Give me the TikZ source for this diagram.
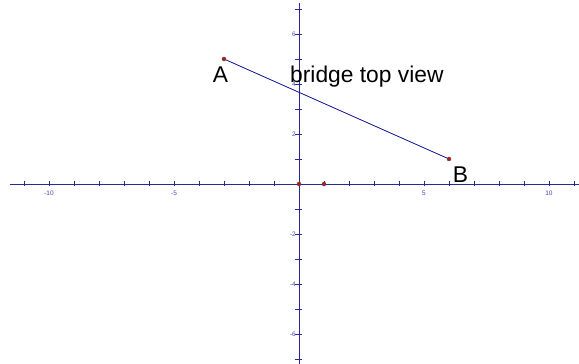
\documentclass[tikz,border=0pt]{standalone}
\usepackage{fontspec}
\setmainfont{Liberation Sans}
\begin{document}
\begin{tikzpicture}[x=25pt,y=25pt,
  axis/.style={draw=axisblue,line width=0.9pt},
  tick/.style={draw=axisblue,line width=0.8pt},
  ticklab/.style={text=labblue,font=\fontsize{6.5}{7}\selectfont,inner sep=0pt},
  pt/.style={circle,fill=ptred,draw=black!70,line width=0.4pt,inner sep=0pt,minimum size=4pt},
  seg/.style={draw=segblue,line width=0.8pt},
  biglab/.style={font=\fontsize{22.8}{24}\selectfont,inner sep=0pt}]
\definecolor{axisblue}{RGB}{40,40,150}
\definecolor{labblue}{RGB}{70,70,190}
\definecolor{segblue}{RGB}{20,20,150}
\definecolor{ptred}{RGB}{190,20,20}
\useasboundingbox (-11.96,-7.2) rectangle (11.2,7.36);
\fill[white] (-11.96,-7.2) rectangle (11.2,7.36);
% axes
\coordinate (xl) at (-11.56,0);
\coordinate (xr) at (11.2,0);
\coordinate (yt) at (0,7.24);
\coordinate (yb) at (0,-7.2);
\draw[axis] (xl) -- (xr);
\draw[axis] (yt) -- (yb);
\foreach \i in {-11,...,-1,1,2,...,11}
  \draw[tick] (\i,-0.1) -- (\i,0.1);
\foreach \j in {-7,...,-1,1,2,...,7}
  \draw[tick] (-0.14,\j) -- (0.14,\j);
\foreach \i in {-10,-5,5,10}
  \node[ticklab] (xl\i) at (\i,-0.36) {\i};
\foreach \j in {-6,-4,-2,2,4,6}
  \node[ticklab,anchor=east] (yl\j) at (-0.12,\j) {\j};
% points
\node[pt] (O) at (0,0) {};
\node[pt] (P) at (1,0) {};
\node[pt] (A) at (-3,5) {};
\node[pt] (B) at (6,1) {};
\draw[seg] (A) -- (B);
\node[biglab] (Alab) at (-3.14,4.38) {A};
\node[biglab] (Blab) at (6.46,0.36) {B};
\node[biglab,anchor=base west] (title) at (-0.36,4.04) {bridge top view};
\end{tikzpicture}
\end{document}
